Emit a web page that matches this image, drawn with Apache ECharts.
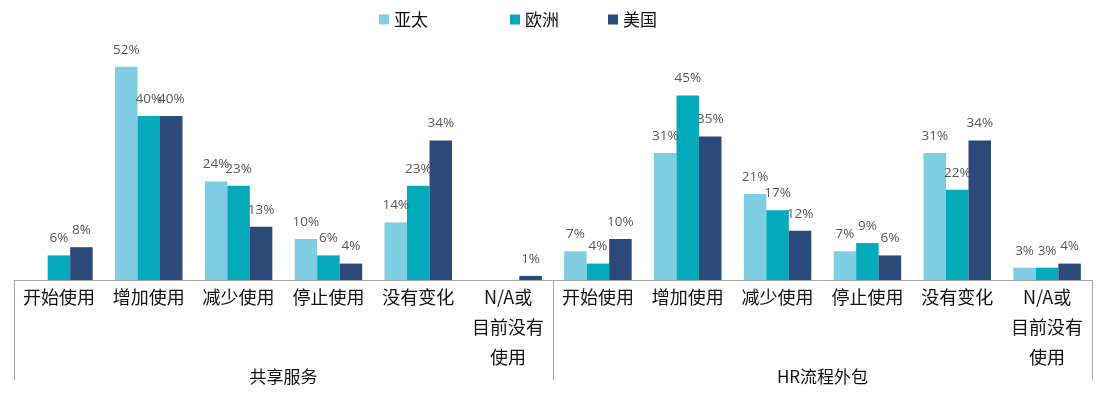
<!DOCTYPE html>
<html>
<head>
<meta charset="utf-8">
<script src="https://cdn.jsdelivr.net/npm/echarts@6/dist/echarts.min.js"></script>
<style>
  html, body { margin: 0; padding: 0; background: #fff; }
  #chart { width: 1102px; height: 397px; }
</style>
</head>
<body>
<div id="chart"></div>
<script>
// categories, two groups of six
var categories = [
  '开始使用', '增加使用', '减少使用', '停止使用', '没有变化', 'N/A或\n目前没有\n使用',
  '开始使用', '增加使用', '减少使用', '停止使用', '没有变化', 'N/A或\n目前没有\n使用'
]
var groups = ['共享服务', 'HR流程外包']

// values in %
var asiaPacific = ['-', 52, 24, 10, 14, '-', 7, 31, 21, 7, 31, 3]
var europe = [6, 40, 23, 6, 23, '-', 4, 45, 17, 9, 22, 3]
var usa = [8, 40, 13, 4, 34, 1, 10, 35, 12, 6, 34, 4]

var chart = echarts.init(document.getElementById('chart'))

function bar(name, data, color) {
  return {
    name: name,
    type: 'bar',
    data: data,
    barWidth: 22.5,
    barGap: '0%',
    itemStyle: { color: color },
    label: {
      show: true,
      position: 'top',
      distance: 10,
      formatter: '{c}%',
      color: '#595959',
      fontSize: 13.5,
      fontFamily: 'Open Sans'
    }
  }
}

var legendText = { color: '#111', fontSize: 17, fontFamily: 'Noto Sans CJK SC' }

chart.setOption({
  animation: false,
  textStyle: { fontFamily: 'Noto Sans CJK SC' },
  legend: [
    { data: ['亚太'], left: 374, top: 6, itemWidth: 10, itemHeight: 10, itemGap: 0, textStyle: legendText, icon: 'rect' },
    { data: ['欧洲'], left: 505, top: 6, itemWidth: 10, itemHeight: 10, itemGap: 0, textStyle: legendText, icon: 'rect' },
    { data: ['美国'], left: 603, top: 6, itemWidth: 10, itemHeight: 10, itemGap: 0, textStyle: legendText, icon: 'rect' }
  ],
  grid: { left: 14, right: 10, top: 34, bottom: 117 },
  xAxis: [
    {
      type: 'category',
      data: categories,
      axisLine: { lineStyle: { color: '#a6a6a6', width: 1 } },
      axisTick: { show: false },
      axisLabel: {
        interval: 0,
        margin: 2,
        color: '#111',
        fontSize: 18,
        lineHeight: 30
      }
    },
    {
      type: 'category',
      data: groups,
      position: 'bottom',
      axisLine: { show: false },
      axisTick: { show: true, length: 100, lineStyle: { color: '#a6a6a6' } },
      axisLabel: {
        margin: 88,
        color: '#111',
        fontSize: 17
      }
    }
  ],
  yAxis: {
    type: 'value',
    min: 0,
    max: 60,
    show: false,
    splitLine: { show: false }
  },
  series: [
    bar('亚太', asiaPacific, '#7ecde3'),
    bar('欧洲', europe, '#02aabb'),
    bar('美国', usa, '#2b4a79')
  ]
})
</script>
</body>
</html>
